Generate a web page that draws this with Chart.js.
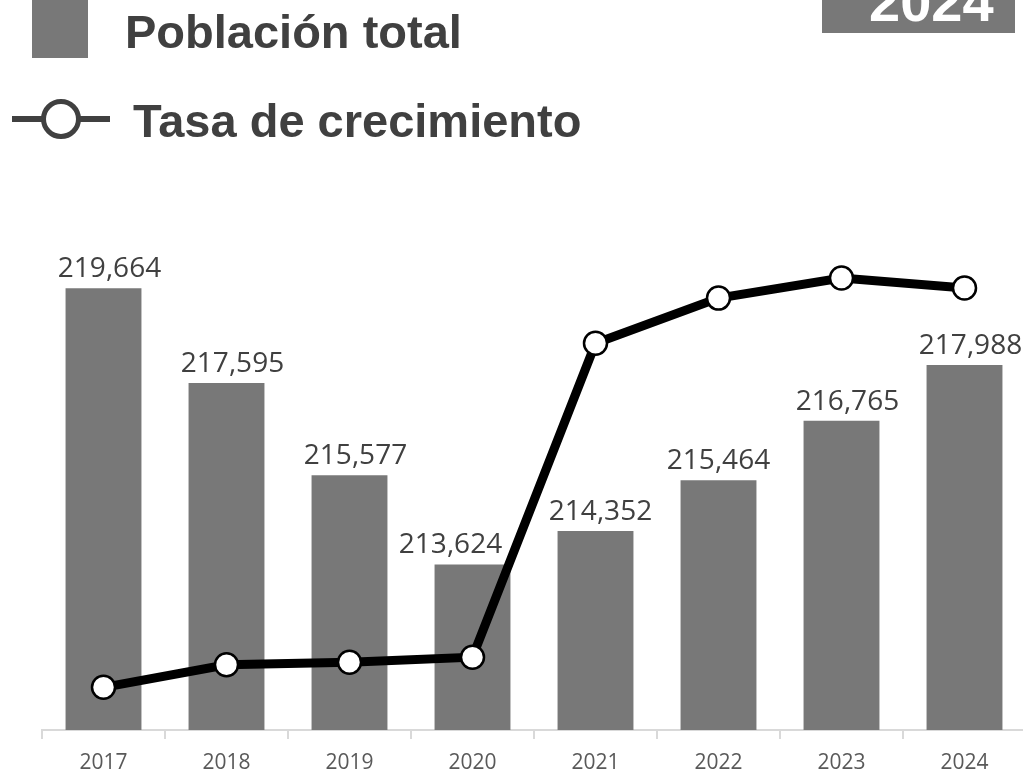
<!DOCTYPE html>
<html>
<head>
<meta charset="utf-8">
<script src="https://cdn.jsdelivr.net/npm/chart.js@4/dist/chart.umd.min.js"></script>
<style>
  html, body { margin: 0; padding: 0; background: #ffffff; overflow: hidden; width: 1023px; height: 775px; }
  #wrap { position: relative; width: 1023px; height: 775px; overflow: hidden; }
  #c { position: absolute; left: 0; top: 0; }
  .leg { position: absolute; font-family: "Liberation Sans", Arial, sans-serif; font-weight: bold; color: #404040; font-size: 47px; line-height: normal; white-space: nowrap; }
  #sq { position: absolute; left: 32px; top: 0px; width: 56px; height: 58px; background: #787878; }
  #lineIcon { position: absolute; left: 12px; top: 99px; width: 100px; height: 42px; }
  #yearBox { position: absolute; left: 822px; top: 0px; width: 193px; height: 33px; background: #787878; overflow: hidden; }
  #yearTxt { position: absolute; left: 47px; top: -31px; font-family: "Liberation Sans", Arial, sans-serif; font-weight: bold; font-size: 56px; color: #ffffff; line-height: normal; }
</style>
</head>
<body>
<div id="wrap">
  <canvas id="c" width="1040" height="775" style="width:1040px;height:775px"></canvas>
  <div id="sq"></div>
  <div class="leg" style="left:125px; top:4px;">Población total</div>
  <svg id="lineIcon" viewBox="0 0 100 42">
    <line x1="0" y1="20" x2="98" y2="20" stroke="#404040" stroke-width="6"/>
    <circle cx="49" cy="20" r="17.5" fill="#ffffff" stroke="#404040" stroke-width="5"/>
  </svg>
  <div class="leg" style="left:133px; top:93px;">Tasa de crecimiento</div>
  <div id="yearBox"><div id="yearTxt">2024</div></div>
</div>
<script>
const categories = ["2017", "2018", "2019", "2020", "2021", "2022", "2023", "2024"];
const poblacionTotal = [219664, 217595, 215577, 213624, 214352, 215464, 216765, 217988];
const tasaCrecimiento = [-1.03, -0.94, -0.93, -0.91, 0.34, 0.52, 0.60, 0.56];

const labelOffsetsX = [6, 6, 6, -22, 5, 0, 6, 6];

const barLabels = {
  id: 'barLabels',
  afterDatasetsDraw(chart) {
    const ctx = chart.ctx;
    const meta = chart.getDatasetMeta(1);
    ctx.save();
    ctx.font = '28px "Open Sans", sans-serif';
    ctx.fillStyle = '#404040';
    ctx.textAlign = 'center';
    ctx.textBaseline = 'alphabetic';
    meta.data.forEach((bar, i) => {
      const txt = poblacionTotal[i].toLocaleString('en-US');
      ctx.fillText(txt, bar.x + labelOffsetsX[i], bar.y - 11);
    });
    ctx.restore();
  }
};

new Chart(document.getElementById('c'), {
  data: {
    labels: categories,
    datasets: [
      {
        type: 'line',
        label: 'Tasa de crecimiento',
        data: tasaCrecimiento,
        yAxisID: 'y1',
        borderColor: '#000000',
        borderWidth: 9,
        pointRadius: 11.5,
        pointBackgroundColor: '#ffffff',
        pointBorderColor: '#000000',
        pointBorderWidth: 2.5,
        tension: 0,
        clip: false,
        order: 0
      },
      {
        type: 'bar',
        label: 'Población total',
        data: poblacionTotal,
        yAxisID: 'y',
        backgroundColor: '#787878',
        barPercentage: 0.617,
        categoryPercentage: 1.0,
        order: 1
      }
    ]
  },
  options: {
    responsive: false,
    animation: false,
    layout: { padding: { left: 42, right: 11, top: 273, bottom: 0 } },
    plugins: { legend: { display: false }, tooltip: { enabled: false } },
    scales: {
      x: {
        offset: true,
        afterFit(scale) { scale.height = 45; },
        grid: { offset: true, drawOnChartArea: false, drawTicks: true, tickLength: 9, color: '#d9d9d9', lineWidth: 2 },
        border: { display: true, color: '#d9d9d9', width: 2 },
        ticks: { font: { family: '"Open Sans", sans-serif', size: 21 }, color: '#595959', padding: 11, maxRotation: 0 }
      },
      y: { display: false, min: 210000, max: 220000 },
      y1: { display: false, min: -1.2, max: 0.62 }
    }
  },
  plugins: [barLabels]
});
</script>
</body>
</html>
